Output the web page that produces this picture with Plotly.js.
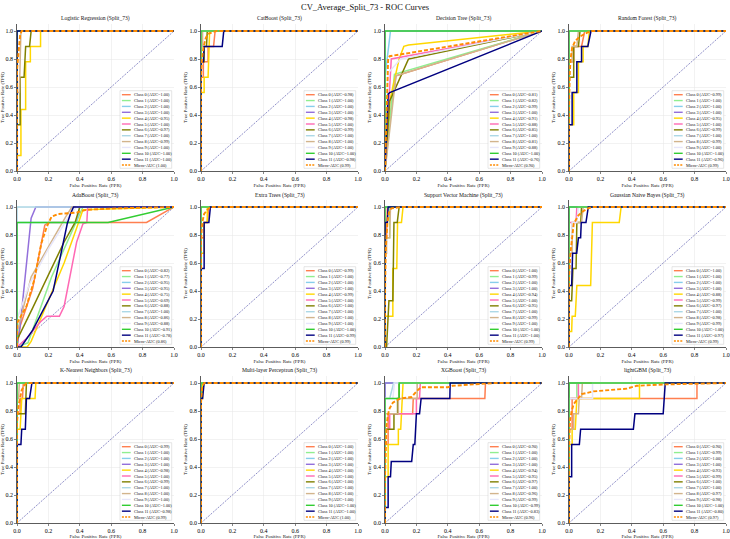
<!DOCTYPE html>
<html>
<head>
<meta charset="utf-8">
<script src="https://cdn.plot.ly/plotly-3.0.1.min.js"></script>
<style>
  html, body { margin: 0; padding: 0; background: #ffffff; }
  #chart { width: 730px; height: 539px; }
</style>
</head>
<body>
<div id="chart"></div>
<script>
// ---------- data ----------
const figureTitle = 'CV_Average_Split_73 - ROC Curves';
const splitName = 'Split_73';
const modelNames = [
  'Logistic Regression', 'CatBoost', 'Decision Tree', 'Random Forest',
  'AdaBoost', 'Extra Trees', 'Support Vector Machine', 'Gaussian Naive Bayes',
  'K-Nearest Neighbors', 'Multi-layer Perceptron', 'XGBoost', 'lightGBM'
];
const classNames = ['Class 0', 'Class 1', 'Class 2', 'Class 3', 'Class 4', 'Class 5',
  'Class 6', 'Class 7', 'Class 8', 'Class 9', 'Class 10', 'Class 11'];
const classColors = ['#FF7F50', '#90EE90', '#87CEEB', '#9370DB', '#FFD700', '#FF69B4',
  '#808000', '#ADD8E6', '#D2B48C', '#E6E6FA', '#32CD32', '#000080'];
const microName = 'Micro-AUC';
const microColor = '#FF8C00';
const tickValues = [0, 0.2, 0.4, 0.6, 0.8, 1.0];
const tickLabels = ['0.0', '0.2', '0.4', '0.6', '0.8', '1.0'];
const chanceLine = [[0, 1], [0, 1]];

// per-class AUC, one array per model
const aucLogReg   = [1.00, 1.00, 1.00, 1.00, 0.95, 1.00, 0.97, 1.00, 0.99, 1.00, 1.00, 1.00];
const aucCatBoost = [0.98, 1.00, 1.00, 1.00, 0.98, 1.00, 0.99, 1.00, 1.00, 1.00, 1.00, 0.98];
const aucDecTree  = [0.81, 0.82, 0.99, 1.00, 0.91, 0.88, 0.85, 1.00, 0.81, 0.88, 1.00, 0.76];
const aucRandFor  = [0.99, 1.00, 1.00, 1.00, 0.95, 1.00, 0.99, 1.00, 0.99, 1.00, 1.00, 0.96];
const aucAdaBoost = [0.82, 0.77, 0.95, 0.95, 0.75, 0.69, 0.88, 1.00, 0.86, 0.88, 0.91, 0.78];
const aucExtraTr  = [0.99, 1.00, 1.00, 1.00, 0.99, 1.00, 1.00, 1.00, 1.00, 1.00, 1.00, 0.99];
const aucSVM      = [1.00, 0.99, 1.00, 1.00, 0.94, 1.00, 0.95, 1.00, 0.99, 1.00, 1.00, 1.00];
const aucGNB      = [1.00, 1.00, 1.00, 1.00, 0.88, 0.99, 0.97, 1.00, 0.98, 0.99, 1.00, 0.97];
const aucKNN      = [0.99, 1.00, 1.00, 1.00, 0.98, 1.00, 0.99, 1.00, 1.00, 1.00, 1.00, 0.98];
const aucMLP      = [1.00, 1.00, 1.00, 1.00, 1.00, 1.00, 1.00, 1.00, 1.00, 1.00, 1.00, 1.00];
const aucXGB      = [0.90, 1.00, 1.00, 1.00, 0.94, 0.95, 0.97, 1.00, 0.96, 0.99, 0.99, 0.83];
const aucLGBM     = [0.90, 0.99, 1.00, 1.00, 0.93, 0.99, 1.00, 1.00, 0.97, 0.98, 1.00, 0.80];
const aucMicro    = [1.00, 0.99, 0.90, 0.99, 0.86, 0.99, 0.99, 0.99, 0.99, 1.00, 0.96, 0.97];

// ROC points per class: [fpr, tpr]
const perfect = [[0, 0, 1], [0, 1, 1]];

const rocLogReg = [
  perfect, perfect, perfect, perfect,
  [[0, 0, 0.025, 0.025, 0.055, 0.055, 0.085, 0.085, 0.15, 0.15, 1], [0, 0.11, 0.11, 0.44, 0.44, 0.78, 0.78, 0.89, 0.89, 1, 1]],
  perfect,
  [[0, 0, 0.02, 0.02, 0.045, 0.055, 0.08, 0.09, 1], [0, 0.33, 0.33, 0.67, 0.67, 0.89, 0.89, 1, 1]],
  perfect,
  [[0, 0, 0.015, 0.02, 0.025, 1], [0, 0.56, 0.56, 0.89, 1, 1]],
  perfect, perfect, perfect
];
const microLogReg = [[0, 0, 0.01, 0.02, 0.03, 1], [0, 0.72, 0.85, 0.97, 1, 1]];

const rocCatBoost = [
  [[0, 0, 0.015, 0.015, 0.045, 0.045, 0.08, 0.09, 1], [0, 0.67, 0.67, 0.78, 0.78, 0.89, 0.89, 1, 1]],
  perfect, perfect, perfect,
  [[0, 0, 0.02, 0.02, 0.045, 0.055, 1], [0, 0.56, 0.56, 0.67, 0.67, 1, 1]],
  perfect,
  [[0, 0, 0.02, 0.02, 0.035, 0.04, 1], [0, 0.78, 0.78, 0.89, 0.89, 1, 1]],
  perfect,
  [[0, 0, 0.01, 0.01, 1], [0, 0.89, 0.89, 1, 1]],
  perfect, perfect,
  [[0, 0, 0.015, 0.02, 0.135, 0.145, 1], [0, 0.78, 0.78, 0.89, 0.89, 1, 1]]
];
const microCatBoost = [[0, 0, 0.005, 0.015, 0.03, 0.045, 0.07, 0.1, 1], [0, 0.68, 0.78, 0.88, 0.95, 0.98, 0.99, 1, 1]];

const rocDecTree = [
  [[0, 0.02, 0.07, 1], [0, 0.3, 0.68, 1]],
  [[0, 0.06, 1], [0, 0.69, 1]],
  [[0, 0, 0.035, 1], [0, 0.67, 1, 1]],
  perfect,
  [[0, 0.03, 0.09, 0.12, 0.15, 1], [0, 0.5, 0.8, 0.89, 0.9, 1]],
  [[0, 0.04, 1], [0, 0.8, 1]],
  [[0, 0.03, 0.15, 1], [0, 0.5, 0.8, 1]],
  perfect,
  [[0, 0.07, 1], [0, 0.68, 1]],
  [[0, 0.02, 0.1, 1], [0, 0.7, 0.8, 1]],
  perfect,
  [[0, 0.02, 0.03, 1], [0, 0.55, 0.56, 1]]
];
const microDecTree = [[0, 0.02, 0.03, 1], [0, 0.8, 0.82, 1]];

const rocRandFor = [
  [[0, 0, 0.03, 0.03, 0.08, 0.1, 1], [0, 0.78, 0.78, 0.89, 0.89, 1, 1]],
  perfect, perfect, perfect,
  [[0, 0, 0.03, 0.03, 0.06, 0.06, 0.09, 0.09, 0.12, 0.13, 1], [0, 0.33, 0.33, 0.56, 0.56, 0.78, 0.78, 0.89, 0.89, 1, 1]],
  perfect,
  [[0, 0, 0.03, 0.03, 0.06, 0.07, 1], [0, 0.67, 0.67, 0.89, 0.89, 1, 1]],
  perfect,
  [[0, 0, 0.02, 0.02, 0.05, 0.06, 1], [0, 0.78, 0.78, 0.89, 0.89, 1, 1]],
  perfect, perfect,
  [[0, 0, 0.02, 0.02, 0.05, 0.05, 0.08, 0.08, 0.12, 0.14, 1], [0, 0.33, 0.33, 0.56, 0.56, 0.78, 0.78, 0.89, 0.89, 1, 1]]
];
const microRandFor = [[0, 0, 0.005, 0.01, 0.02, 0.04, 0.07, 0.1, 0.14, 1], [0, 0.45, 0.7, 0.8, 0.88, 0.93, 0.96, 0.98, 1, 1]];

const rocAdaBoost = [
  [[0, 0.02, 0.1, 0.177, 0.2, 0.825, 1], [0, 0.15, 0.42, 0.87, 0.89, 0.89, 1]],
  [[0, 0.07, 0.22, 0.4, 0.42, 1], [0, 0.03, 0.5, 0.95, 1, 1]],
  [[0, 0, 0.38, 0.4, 1], [0, 0.89, 0.89, 1, 1]],
  [[0, 0.02, 0.09, 0.12, 1], [0, 0.15, 0.92, 1, 1]],
  [[0, 0.065, 0.09, 0.2, 0.3, 0.38, 0.42, 1], [0, 0, 0.04, 0.33, 0.6, 0.85, 0.98, 1]],
  [[0, 0.06, 0.15, 0.19, 0.27, 0.3, 0.38, 0.42, 0.445, 0.45, 1], [0, 0.06, 0.18, 0.22, 0.22, 0.29, 0.75, 0.88, 0.89, 1, 1]],
  [[0, 0, 0.1, 0.2, 0.3, 0.37, 0.4, 1], [0, 0.05, 0.28, 0.52, 0.75, 0.89, 1, 1]],
  perfect,
  [[0, 0, 0.09, 0.2, 0.31, 0.35, 1], [0, 0.1, 0.5, 0.72, 0.93, 1, 1]],
  [[0, 0, 0.08, 0.2, 0.34, 0.38, 1], [0, 0.2, 0.45, 0.7, 0.95, 1, 1]],
  [[0, 0, 0.58, 1], [0, 0.89, 0.89, 1]],
  [[0, 0.025, 0.1, 0.21, 0.23, 0.32, 0.34, 0.36, 1], [0, 0, 0.12, 0.36, 0.4, 0.88, 0.95, 1, 1]]
];
const microAdaBoost = [[0, 0, 0.06, 0.11, 0.155, 0.19, 0.22, 0.26, 0.38, 0.44, 0.63, 1], [0, 0.17, 0.29, 0.48, 0.74, 0.86, 0.93, 0.95, 0.96, 0.98, 0.99, 1]];

const rocExtraTr = [
  [[0, 0, 0.02, 0.02, 0.04, 0.05, 1], [0, 0.78, 0.78, 0.89, 0.89, 1, 1]],
  perfect, perfect, perfect,
  [[0, 0, 0.02, 0.02, 0.04, 0.04, 1], [0, 0.67, 0.67, 0.89, 0.89, 1, 1]],
  perfect, perfect, perfect, perfect, perfect, perfect,
  [[0, 0, 0.02, 0.02, 0.05, 0.06, 1], [0, 0.56, 0.56, 0.89, 0.89, 1, 1]]
];
const microExtraTr = [[0, 0, 0.005, 0.01, 0.02, 0.04, 0.06, 1], [0, 0.75, 0.85, 0.9, 0.95, 0.98, 1, 1]];

const rocSVM = [
  [[0, 0, 0.01, 0.015, 1], [0, 0.78, 0.78, 1, 1]],
  [[0, 0, 0.03, 0.03, 1], [0, 0.78, 0.78, 1, 1]],
  perfect, perfect,
  [[0, 0, 0.05, 0.05, 0.075, 0.08, 0.105, 0.115, 1], [0, 0.22, 0.22, 0.56, 0.56, 0.89, 0.89, 1, 1]],
  perfect,
  [[0, 0.01, 0.025, 0.05, 0.057, 0.078, 0.09, 1], [0, 0, 0.33, 0.33, 0.89, 0.89, 1, 1]],
  perfect,
  [[0, 0, 0.01, 0.01, 0.03, 0.035, 1], [0, 0.67, 0.67, 0.78, 0.78, 1, 1]],
  perfect, perfect,
  [[0, 0, 0.015, 0.02, 1], [0, 0.89, 0.89, 1, 1]]
];
const microSVM = [[0, 0, 0.005, 0.015, 0.025, 0.04, 0.1, 1], [0, 0.36, 0.7, 0.88, 0.96, 0.99, 1, 1]];

const rocGNB = [
  perfect, perfect, perfect, perfect,
  [[0, 0, 0.017, 0.02, 0.04, 0.05, 0.138, 0.149, 0.32, 0.332, 1], [0, 0.11, 0.11, 0.22, 0.22, 0.44, 0.44, 0.89, 0.89, 1, 1]],
  [[0, 0, 0.045, 0.05, 1], [0, 0.89, 0.89, 1, 1]],
  [[0, 0, 0.017, 0.025, 0.045, 0.05, 0.075, 0.08, 1], [0, 0.33, 0.33, 0.56, 0.56, 0.89, 0.89, 1, 1]],
  perfect,
  [[0, 0, 0.02, 0.02, 0.08, 0.09, 1], [0, 0.67, 0.67, 0.89, 0.89, 1, 1]],
  [[0, 0, 0.02, 0.02, 0.05, 0.06, 1], [0, 0.78, 0.78, 0.89, 0.89, 1, 1]],
  perfect,
  [[0, 0, 0.017, 0.023, 0.049, 0.06, 0.074, 0.078, 0.108, 0.123, 1], [0, 0.44, 0.44, 0.67, 0.67, 0.78, 0.78, 0.89, 0.89, 1, 1]]
];
const microGNB = [[0, 0, 0.01, 0.02, 0.03, 0.06, 0.09, 0.12, 0.15, 1], [0, 0.5, 0.68, 0.8, 0.88, 0.94, 0.97, 0.99, 1, 1]];

const rocKNN = [
  [[0, 0, 0.02, 0.02, 0.035, 0.04, 1], [0, 0.78, 0.78, 0.89, 0.89, 1, 1]],
  perfect, perfect, perfect,
  [[0, 0, 0.02, 0.03, 0.115, 0.12, 1], [0, 0.67, 0.67, 0.89, 0.89, 1, 1]],
  perfect,
  [[0, 0, 0.053, 0.06, 1], [0, 0.78, 0.78, 1, 1]],
  perfect,
  [[0, 0, 0.01, 0.015, 1], [0, 0.89, 0.89, 1, 1]],
  perfect, perfect,
  [[0, 0, 0.025, 0.03, 0.053, 0.06, 0.08, 0.095, 1], [0, 0.56, 0.56, 0.67, 0.67, 0.89, 0.89, 1, 1]]
];
const microKNN = [[0, 0, 0.01, 0.02, 0.03, 0.045, 0.06, 1], [0, 0.72, 0.84, 0.9, 0.95, 0.98, 1, 1]];

const rocMLP = [
  perfect, perfect, perfect, perfect,
  [[0, 0, 0.01, 0.01, 1], [0, 0.89, 0.89, 1, 1]],
  perfect, perfect, perfect, perfect, perfect, perfect,
  [[0, 0, 0.01, 0.02, 1], [0, 0.89, 0.89, 1, 1]]
];
const microMLP = [[0, 0, 0.005, 0.01, 0.02, 1], [0, 0.85, 0.95, 0.98, 1, 1]];

const rocXGB = [
  [[0, 0, 0.02, 0.02, 0.176, 0.18, 0.636, 0.64, 1], [0, 0.56, 0.56, 0.78, 0.78, 0.89, 0.89, 1, 1]],
  perfect, perfect, perfect,
  [[0, 0, 0.02, 0.02, 0.085, 0.085, 0.1, 0.115, 1], [0, 0.33, 0.33, 0.56, 0.56, 0.67, 0.67, 1, 1]],
  [[0, 0, 0.03, 0.03, 0.2, 0.2, 0.22, 0.225, 1], [0, 0.67, 0.67, 0.78, 0.78, 0.89, 0.89, 1, 1]],
  [[0, 0, 0.057, 0.057, 0.08, 0.08, 0.09, 0.09, 1], [0, 0.67, 0.67, 0.78, 0.78, 0.89, 0.89, 1, 1]],
  [[0, 0, 0.03, 0.055, 1], [0, 0.89, 0.89, 1, 1]],
  [[0, 0, 0.085, 0.085, 0.205, 0.205, 1], [0, 0.78, 0.78, 0.89, 0.89, 1, 1]],
  [[0, 0, 0.05, 0.06, 1], [0, 0.89, 0.89, 1, 1]],
  [[0, 0, 0.09, 0.09, 1], [0, 0.89, 0.89, 1, 1]],
  [[0, 0, 0.02, 0.02, 0.035, 0.04, 0.17, 0.18, 0.19, 0.2, 0.22, 0.23, 0.413, 0.415, 1], [0, 0.11, 0.11, 0.33, 0.33, 0.44, 0.44, 0.56, 0.56, 0.78, 0.78, 0.89, 0.89, 1, 1]]
];
const microXGB = [[0, 0, 0.01, 0.02, 0.03, 0.05, 0.08, 0.1, 0.17, 0.2, 0.23, 0.4, 0.43, 0.6, 0.7, 1], [0, 0.33, 0.7, 0.78, 0.82, 0.86, 0.88, 0.89, 0.9, 0.94, 0.97, 0.97, 0.98, 0.99, 1, 1]];

const rocLGBM = [
  [[0, 0, 0.02, 0.02, 0.815, 0.815, 1], [0, 0.67, 0.67, 0.89, 0.89, 1, 1]],
  [[0, 0, 0.05, 0.05, 1], [0, 0.89, 0.89, 1, 1]],
  perfect, perfect,
  [[0, 0, 0.02, 0.02, 0.04, 0.05, 0.449, 0.449, 1], [0, 0.56, 0.56, 0.67, 0.67, 0.89, 0.89, 1, 1]],
  [[0, 0, 0.06, 0.06, 1], [0, 0.89, 0.89, 1, 1]],
  perfect, perfect,
  [[0, 0, 0.03, 0.03, 0.06, 0.065, 0.08, 0.085, 1], [0, 0.67, 0.67, 0.78, 0.78, 0.89, 0.89, 1, 1]],
  [[0, 0, 0.15, 0.15, 1], [0, 0.89, 0.89, 1, 1]],
  perfect,
  [[0, 0, 0.017, 0.017, 0.066, 0.074, 0.41, 0.42, 0.6, 0.613, 1], [0, 0.33, 0.33, 0.56, 0.56, 0.67, 0.67, 0.78, 0.78, 1, 1]]
];
const microLGBM = [[0, 0, 0.006, 0.017, 0.03, 0.05, 0.08, 0.155, 0.3, 0.37, 0.43, 0.62, 1], [0, 0.52, 0.73, 0.8, 0.85, 0.88, 0.92, 0.94, 0.95, 0.96, 0.98, 0.99, 1]];

const modelAucs = [aucLogReg, aucCatBoost, aucDecTree, aucRandFor, aucAdaBoost, aucExtraTr,
  aucSVM, aucGNB, aucKNN, aucMLP, aucXGB, aucLGBM];
const modelRocs = [rocLogReg, rocCatBoost, rocDecTree, rocRandFor, rocAdaBoost, rocExtraTr,
  rocSVM, rocGNB, rocKNN, rocMLP, rocXGB, rocLGBM];
const modelMicros = [microLogReg, microCatBoost, microDecTree, microRandFor, microAdaBoost, microExtraTr,
  microSVM, microGNB, microKNN, microMLP, microXGB, microLGBM];

// ---------- page geometry (px) ----------
const pageW = 730, pageH = 539;
const colLeft = [17, 201, 385, 569];
const rowTop = [24, 200, 376];
const axW = 157, axH = 147;
const serif = "'Liberation Serif', 'Times New Roman', Times, serif";
const textColor = '#111111';

// legend box inside each axes, in px from the axes' top-left corner
const legBox = {x0: 103, x1: 154.7, y0: 66.7, y1: 144.3};
const legRow0 = 70.7, legPitch = 5.86;
const legSym = {x0: 104.9, x1: 113.7};
const legTextX = 117.0;

const traces = [];
const shapes = [];
const annotations = [];
const layout = {
  width: pageW, height: pageH,
  margin: {l: 0, r: 0, t: 0, b: 0},
  paper_bgcolor: '#ffffff', plot_bgcolor: '#ffffff',
  showlegend: false,
  font: {family: serif, color: textColor},
  title: {
    text: figureTitle, x: 0.5, xanchor: 'center',
    y: 1 - 7.5 / pageH, yanchor: 'middle', yref: 'container',
    font: {family: serif, size: 8.5, color: textColor}
  }
};

const fmt = v => v.toFixed(2);

modelNames.forEach((name, i) => {
  const r = Math.floor(i / 4), c = i % 4;
  const sfx = i === 0 ? '' : String(i + 1);
  const xa = 'x' + sfx, ya = 'y' + sfx;
  const axisCommon = {
    tickmode: 'array', tickvals: tickValues, ticktext: tickLabels,
    showticklabels: true, ticklabeloverflow: 'allow',
    ticks: 'outside', ticklen: 2, tickwidth: 0.6, tickcolor: '#333333',
    showline: true, linecolor: '#333333', linewidth: 0.8,
    showgrid: true, gridcolor: '#e6e6e6', gridwidth: 0.5,
    zeroline: false, automargin: false, fixedrange: true,
    tickfont: {family: serif, size: 6, color: '#000000'}
  };
  layout['xaxis' + sfx] = Object.assign({}, axisCommon, {
    domain: [colLeft[c] / pageW, (colLeft[c] + axW) / pageW],
    anchor: ya, range: [0, 1],
    title: {text: 'False Positive Rate (FPR)', standoff: 1.5,
      font: {family: serif, size: 5, color: textColor}}
  });
  layout['yaxis' + sfx] = Object.assign({}, axisCommon, {
    domain: [1 - (rowTop[r] + axH) / pageH, 1 - rowTop[r] / pageH],
    anchor: xa, range: [0, 1.05],
    title: {text: 'True Positive Rate (TPR)', standoff: 1.5,
      font: {family: serif, size: 5, color: textColor}}
  });

  // chance diagonal
  traces.push({
    type: 'scatter', mode: 'lines', xaxis: xa, yaxis: ya,
    x: chanceLine[0].slice(), y: chanceLine[1].slice(),
    line: {color: 'rgba(40,40,150,0.75)', width: 0.7, dash: '2px,1.2px'},
    hoverinfo: 'skip'
  });
  // class curves
  modelRocs[i].forEach((roc, k) => {
    traces.push({
      type: 'scatter', mode: 'lines', xaxis: xa, yaxis: ya,
      x: roc[0].slice(), y: roc[1].slice(),
      name: classNames[k],
      line: {color: classColors[k], width: 1.5},
      hoverinfo: 'skip'
    });
  });
  // micro-average curve
  traces.push({
    type: 'scatter', mode: 'lines', xaxis: xa, yaxis: ya,
    x: modelMicros[i][0].slice(), y: modelMicros[i][1].slice(),
    name: microName,
    line: {color: microColor, width: 1.9, dash: '4px,2px'},
    hoverinfo: 'skip'
  });

  // subplot title
  annotations.push({
    xref: xa + ' domain', yref: ya + ' domain',
    x: 0.5, y: 1 + 5 / axH, xanchor: 'center', yanchor: 'middle',
    text: name + ' (' + splitName + ')', showarrow: false,
    font: {family: serif, size: 5.6, color: textColor}
  });

  // legend panel
  const dx = px => px / axW;
  const dy = px => 1 - px / axH;
  shapes.push({
    type: 'rect', xref: xa + ' domain', yref: ya + ' domain',
    x0: dx(legBox.x0), x1: dx(legBox.x1), y0: dy(legBox.y1), y1: dy(legBox.y0),
    fillcolor: 'rgba(255,255,255,0.85)', line: {color: '#cccccc', width: 0.5}
  });
  const entries = classNames.map((cn, k) => ({
    label: cn + ' (AUC=' + fmt(modelAucs[i][k]) + ')',
    color: classColors[k], width: 1.4, dash: 'solid'
  }));
  entries.push({label: microName + ' (' + fmt(aucMicro[i]) + ')', color: microColor, width: 1.6, dash: '2px,1.2px'});
  entries.forEach((e, k) => {
    const yy = dy(legRow0 + legPitch * k);
    shapes.push({
      type: 'line', xref: xa + ' domain', yref: ya + ' domain',
      x0: dx(legSym.x0), x1: dx(legSym.x1), y0: yy, y1: yy,
      line: {color: e.color, width: e.width, dash: e.dash}
    });
    annotations.push({
      xref: xa + ' domain', yref: ya + ' domain',
      x: dx(legTextX), y: yy, xanchor: 'left', yanchor: 'middle',
      text: e.label, showarrow: false, borderpad: 0, borderwidth: 0,
      font: {family: serif, size: 4.3, color: textColor}
    });
  });
});

layout.shapes = shapes;
layout.annotations = annotations;

Plotly.newPlot('chart', traces, layout, {staticPlot: true, displayModeBar: false});
</script>
</body>
</html>
